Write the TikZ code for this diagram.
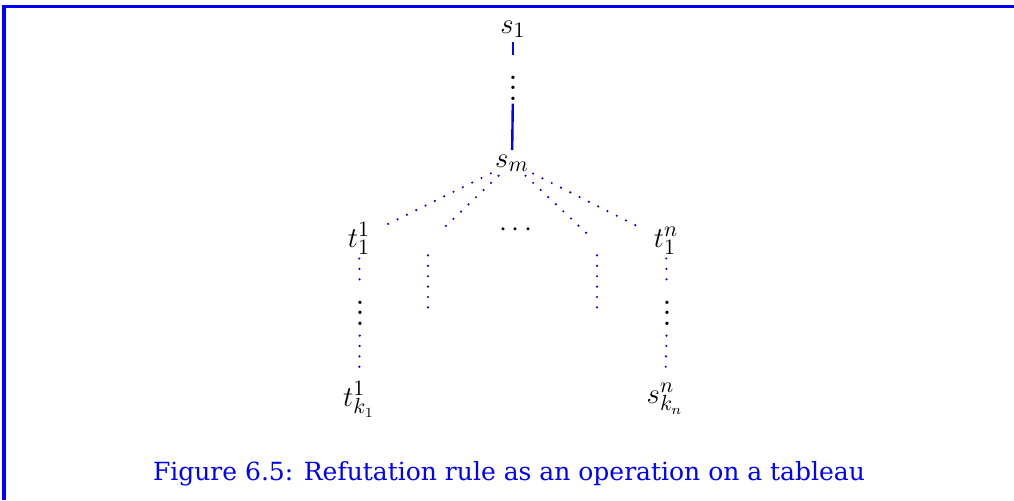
\documentclass[tikz,border=0pt]{standalone}
\usepackage{fontspec}
\newfontfamily\capfont{DejaVu Serif}
\newcommand{\tabvdots}{\vbox{\baselineskip=5.25pt \lineskiplimit=0pt
  \hbox{$.$}\hbox{$.$}\hbox{$.$}}}
\begin{document}
\begin{tikzpicture}[x = 0.5pt, y = -0.5pt,
    lbl/.style = {anchor = base, inner sep = 2pt,
                  font = \fontsize{15}{18}\selectfont},
    dotsbox/.style = {inner sep = 1.5pt, font = \fontsize{17}{20}\selectfont},
    tree/.style = {blue, line width = 1.2pt},
    branch/.style = {blue, line width = 1.2pt, line cap = round,
                     dash pattern = on 0pt off 5.2pt},
    gap/.style = {inner sep = 0pt, minimum width = 10pt, minimum height = 12pt}]
  \useasboundingbox (0,0) rectangle (1014,500);
  \draw [blue, line width = 1.5pt] (4,500) -- (4,6.5) -- (1014,6.5);
  % trunk
  \node [lbl] (s1) at (513,33) {$s_1$};
  \node [dotsbox] (d1) at (513,88) {\tabvdots};
  \node [lbl] (sm) at (512,167) {$s_m$};
  \draw [tree, shorten > = 8.5pt] (s1) -- (d1);
  \draw [tree] (d1) -- (sm);
  % first branch
  \node [lbl] (t11) at (359,247) {$t_1^1$};
  \node [dotsbox, inner sep = 5pt] (v1) at (360,313) {\tabvdots};
  \node [lbl, inner sep = 3pt] (tk1) at (359,406) {$t_{k_1}^1$};
  \draw [branch, shorten > = 5pt] (sm) -- (t11);
  \draw [branch, shorten > = 4pt] (t11) -- (v1);
  \draw [branch] (v1) -- (tk1);
  % unnamed branches
  \node [gap] (u1) at (428,243) {};
  \node [gap] (u2) at (597,243) {};
  \coordinate (u1e) at (428,309);
  \coordinate (u2e) at (597,309);
  \draw [branch] (sm) -- (u1);
  \draw [branch] (u1) -- (u1e);
  \draw [branch] (sm) -- (u2);
  \draw [branch] (u2) -- (u2e);
  \node [lbl] (dd) at (516,236) {$\cdots$};
  % last branch
  \node [lbl] (t1n) at (666,247) {$t_1^n$};
  \node [dotsbox, inner sep = 5pt] (v2) at (667,313) {\tabvdots};
  \node [lbl, inner sep = 3pt] (skn) at (665,403) {$s_{k_n}^n$};
  \draw [branch, shorten > = 5pt] (sm) -- (t1n);
  \draw [branch, shorten > = 4pt] (t1n) -- (v2);
  \draw [branch] (v2) -- (skn);
  % caption
  \node [anchor = base, text = blue, font = \capfont\fontsize{12.5}{15}\selectfont]
    (cap) at (509,480) {Figure 6.5: Refutation rule as an operation on a tableau};
\end{tikzpicture}
\end{document}
